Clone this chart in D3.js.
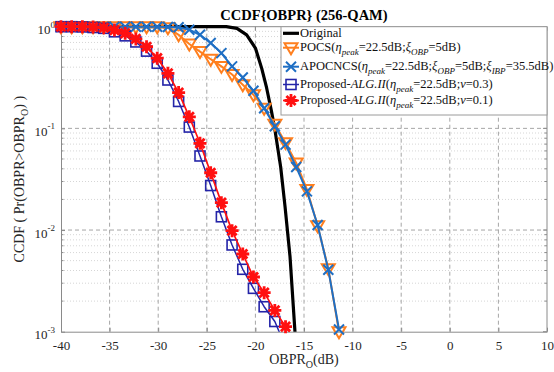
<!DOCTYPE html>
<html>
<head>
<meta charset="utf-8">
<script src="https://cdn.jsdelivr.net/npm/d3@7"></script>
<style>
  body { margin: 0; background: #fff; }
  svg { display: block; }
  text { font-family: "Liberation Serif", "Times New Roman", serif; }
</style>
</head>
<body>
<svg id="chart" width="554" height="372"></svg>
<script>
// OBPR_O sample points (dB) shared by the simulated curves
const obpr = [-40, -38.9, -37.8, -36.7, -35.6, -34.5, -33.4, -32.3, -31.2, -30.1,
              -29, -27.9, -26.8, -25.7, -24.6, -23.5, -22.4, -21.3, -20.2, -19.1,
              -18, -16.9, -15.8, -14.7, -13.6, -12.5, -11.4];

// Original (no reduction) CCDF, denser sampling near the knee
const originalX = [-40, -23, -21.9, -20.9, -20.0, -19.35, -18.85, -18.35, -17.98, -17.4, -16.95, -16.44, -15.93, -15.8];
const original  = [1, 1, 0.964, 0.832, 0.617, 0.389, 0.251, 0.148, 0.0955, 0.0417, 0.0170, 0.0055, 0.0010, 0.00063];

const pocs = [1, 1, 1, 1, 1, 1, 1, 1, 1, 1,
              0.977, 0.832, 0.676, 0.569, 0.479, 0.407, 0.339, 0.269, 0.214, 0.158,
              0.110, 0.0724, 0.0457, 0.0251, 0.0110, 0.00417, 0.00100];

const apocncs = [1, 1, 1, 1, 1, 1, 1, 1, 1, 1,
                 0.993, 0.986, 0.933, 0.832, 0.692, 0.550, 0.407, 0.316, 0.234, 0.158,
                 0.105, 0.0692, 0.0417, 0.0240, 0.0112, 0.00407, 0.00105];

const algNu03 = [1, 1, 0.995, 0.982, 0.964, 0.891, 0.813, 0.708, 0.575, 0.437,
                 0.299, 0.184, 0.103, 0.0535, 0.0274, 0.0135, 0.00713, 0.00411, 0.00267, 0.00176,
                 0.00126, 0.00071];

const algNu01 = [1, 1, 1, 0.993, 0.977, 0.927, 0.861, 0.759, 0.635, 0.490,
                 0.348, 0.225, 0.130, 0.0713, 0.0366, 0.0186, 0.00986, 0.00581, 0.00345, 0.00242,
                 0.00162, 0.00112, 0.00079];

const xTicks = [-40, -35, -30, -25, -20, -15, -10, -5, 0, 5, 10];
const yTicks = [1, 0.1, 0.01, 0.001];
const yTickExp = ["0", "-1", "-2", "-3"];

const svg = d3.select("#chart");
const plot = { left: 61, right: 547, top: 26.7, bottom: 331.7 };

const x = d3.scaleLinear().domain([-40, 10]).range([plot.left, plot.right]);
const y = d3.scaleLog().domain([1e-3, 1]).range([plot.bottom, plot.top]);

const axisColor = "#8a8a8a";
const textColor = "#262626";

// minor log grid (2..9 per decade)
const minorY = [];
[-3, -2, -1].forEach(d => { for (let m = 2; m <= 9; m++) minorY.push(m * Math.pow(10, d)); });

const grid = svg.append("g");
grid.selectAll("line.minor").data(minorY).join("line")
  .attr("x1", plot.left).attr("x2", plot.right)
  .attr("y1", d => y(d)).attr("y2", d => y(d))
  .attr("stroke", "#d6d6d6").attr("stroke-width", 1).attr("stroke-dasharray", "1,2");
grid.selectAll("line.vx").data(xTicks.slice(1, -1)).join("line")
  .attr("x1", d => x(d)).attr("x2", d => x(d))
  .attr("y1", plot.top).attr("y2", plot.bottom)
  .attr("stroke", "#a6a6a6").attr("stroke-width", 1).attr("stroke-dasharray", "4,3");
grid.selectAll("line.hy").data(yTicks.slice(1, -1)).join("line")
  .attr("x1", plot.left).attr("x2", plot.right)
  .attr("y1", d => y(d)).attr("y2", d => y(d))
  .attr("stroke", "#a6a6a6").attr("stroke-width", 1).attr("stroke-dasharray", "4,3");

// axes
const xAxis = svg.append("g").attr("transform", `translate(0,${plot.bottom})`)
  .call(d3.axisBottom(x).tickValues(xTicks).tickSizeInner(-4).tickSizeOuter(0).tickPadding(9).tickFormat(d => d));
xAxis.select(".domain").attr("stroke", axisColor);
xAxis.selectAll(".tick line").attr("stroke", axisColor);
xAxis.selectAll(".tick text").attr("font-size", 13).attr("fill", textColor)
  .style("font-family", '"Liberation Serif", serif');

const yAxis = svg.append("g").attr("transform", `translate(${plot.left},0)`)
  .call(d3.axisLeft(y).tickValues(yTicks).tickSizeInner(-4).tickSizeOuter(0).tickPadding(6).tickFormat(() => ""));
yAxis.select(".domain").attr("stroke", axisColor);
yAxis.selectAll(".tick line").attr("stroke", axisColor);
yAxis.selectAll(".tick text").each(function(d, i) {
  const t = d3.select(this).attr("font-size", 13).attr("fill", textColor).attr("dy", "0.55em");
  t.append("tspan").text("10");
  t.append("tspan").attr("font-size", 9).attr("dy", "-0.75em").text(yTickExp[i]);
});
// minor ticks on left and right
svg.append("g").selectAll("line").data(minorY).join("line")
  .attr("x1", plot.left).attr("x2", plot.left + 2.5)
  .attr("y1", d => y(d)).attr("y2", d => y(d)).attr("stroke", axisColor);
svg.append("g").selectAll("line").data(minorY).join("line")
  .attr("x1", plot.right).attr("x2", plot.right - 2.5)
  .attr("y1", d => y(d)).attr("y2", d => y(d)).attr("stroke", axisColor);
svg.append("g").selectAll("line").data(yTicks).join("line")
  .attr("x1", plot.right).attr("x2", plot.right - 4)
  .attr("y1", d => y(d)).attr("y2", d => y(d)).attr("stroke", axisColor);
svg.append("g").selectAll("line").data(xTicks).join("line")
  .attr("x1", d => x(d)).attr("x2", d => x(d))
  .attr("y1", plot.top).attr("y2", plot.top + 4).attr("stroke", axisColor);
// box top and right
svg.append("line").attr("x1", plot.left).attr("x2", plot.right).attr("y1", plot.top).attr("y2", plot.top).attr("stroke", axisColor);
svg.append("line").attr("x1", plot.right).attr("x2", plot.right).attr("y1", plot.top).attr("y2", plot.bottom).attr("stroke", axisColor);

// marker shapes
const markers = {
  tri: (g, c) => g.append("path").attr("d", "M-6.5,-4.5L6.5,-4.5L0,6.5Z")
    .attr("fill", "none").attr("stroke", c).attr("stroke-width", 2),
  cross: (g, c) => g.append("path").attr("d", "M-5,-5L5,5M-5,5L5,-5")
    .attr("fill", "none").attr("stroke", c).attr("stroke-width", 2),
  square: (g, c) => g.append("rect").attr("x", -5).attr("y", -5).attr("width", 10).attr("height", 10)
    .attr("fill", "none").attr("stroke", c).attr("stroke-width", 1.6),
  star: (g, c) => g.append("path").attr("d", "M0,-6.5L0,6.5M-6.5,0L6.5,0M-4.6,-4.6L4.6,4.6M-4.6,4.6L4.6,-4.6")
    .attr("fill", "none").attr("stroke", c).attr("stroke-width", 2.8)
};

const series = [
  { name: "original", xs: originalX, ys: original, color: "#000000", width: 3.2, marker: null },
  { name: "pocs", xs: obpr, ys: pocs, color: "#ff7f1e", width: 2, marker: "tri" },
  { name: "apocncs", xs: obpr, ys: apocncs, color: "#1f6fc4", width: 2, marker: "cross" },
  { name: "alg03", xs: obpr, ys: algNu03, color: "#2424a8", width: 1.5, marker: "square" },
  { name: "alg01", xs: obpr, ys: algNu01, color: "#ff1010", width: 1.7, marker: "star" }
];

svg.append("defs").append("clipPath").attr("id", "plotClip").append("rect")
  .attr("x", plot.left).attr("y", plot.top - 2)
  .attr("width", plot.right - plot.left).attr("height", plot.bottom - plot.top + 2);

const line = d3.line().x(d => x(d[0])).y(d => y(d[1]));
const dataLayer = svg.append("g");
series.forEach(s => {
  const pts = s.ys.map((v, i) => [s.xs[i], v]);
  dataLayer.append("path").datum(pts).attr("d", line)
    .attr("fill", "none").attr("stroke", s.color).attr("stroke-width", s.width)
    .attr("stroke-linejoin", "round").attr("clip-path", "url(#plotClip)");
  if (s.marker) {
    pts.filter(p => p[1] >= 0.00099).forEach(p => {
      const g = dataLayer.append("g").attr("transform", `translate(${x(p[0])},${y(p[1])})`);
      markers[s.marker](g, s.color);
    });
  }
});

// rich text helper: segments of {t, it, sub}
function rich(sel, segs, size) {
  let shift = 0;
  segs.forEach(s => {
    const target = s.sub ? 4 : 0;
    const ts = sel.append("tspan").text(s.t)
      .attr("font-size", s.sub ? size * 0.72 : size)
      .attr("font-style", s.it ? "italic" : "normal");
    if (target !== shift) { ts.attr("dy", target - shift); shift = target; }
  });
}

// legend
const legend = svg.append("g");
legend.append("rect").attr("x", 281).attr("y", plot.top).attr("width", plot.right - 281).attr("height", 115 - plot.top)
  .attr("fill", "#fff").attr("stroke", "#9a9a9a").attr("stroke-width", 1);
const eta = [{ t: "η", it: true }, { t: "peak", it: true, sub: true }];
const legendRows = [
  { s: 0, y: 33.3, segs: [{ t: "Original" }] },
  { s: 1, y: 47.7, segs: [{ t: "POCS(" }, ...eta, { t: "=22.5dB;" }, { t: "ξ", it: true }, { t: "OBP", it: true, sub: true }, { t: "=5dB)" }] },
  { s: 2, y: 66.7, segs: [{ t: "APOCNCS(" }, ...eta, { t: "=22.5dB;" }, { t: "ξ", it: true }, { t: "OBP", it: true, sub: true }, { t: "=5dB;" }, { t: "ξ", it: true }, { t: "IBP", it: true, sub: true }, { t: "=35.5dB)" }] },
  { s: 3, y: 84.5, segs: [{ t: "Proposed-" }, { t: "ALG.II", it: true }, { t: "(" }, ...eta, { t: "=22.5dB;" }, { t: "ν", it: true }, { t: "=0.3)" }] },
  { s: 4, y: 100.5, segs: [{ t: "Proposed-" }, { t: "ALG.II", it: true }, { t: "(" }, ...eta, { t: "=22.5dB;" }, { t: "ν", it: true }, { t: "=0.1)" }] }
];
legendRows.forEach(r => {
  const s = series[r.s];
  legend.append("line").attr("x1", 283).attr("x2", 299).attr("y1", r.y).attr("y2", r.y)
    .attr("stroke", s.color).attr("stroke-width", s.width);
  if (s.marker) {
    const g = legend.append("g").attr("transform", `translate(291,${r.y})`);
    markers[s.marker](g, s.color);
  }
  const t = legend.append("text").attr("x", 300).attr("y", r.y + 3.7).attr("fill", "#111");
  rich(t, r.segs, 12.5);
});

// title and axis labels
svg.append("text").attr("x", 304).attr("y", 19.5).attr("text-anchor", "middle")
  .attr("font-size", 14.5).attr("font-weight", "bold").attr("fill", "#000")
  .text("CCDF{OBPR} (256-QAM)");

const xl = svg.append("text").attr("x", 304).attr("y", 364).attr("text-anchor", "middle").attr("fill", textColor);
rich(xl, [{ t: "OBPR" }, { t: "O", sub: true }, { t: "(dB)" }], 14);

const yl = svg.append("text").attr("transform", `translate(24,${(plot.top + plot.bottom) / 2}) rotate(-90)`)
  .attr("text-anchor", "middle").attr("fill", textColor);
rich(yl, [{ t: "CCDF ( Pr(OBPR>OBPR" }, { t: "O", sub: true }, { t: ") )" }], 14);
</script>
</body>
</html>
